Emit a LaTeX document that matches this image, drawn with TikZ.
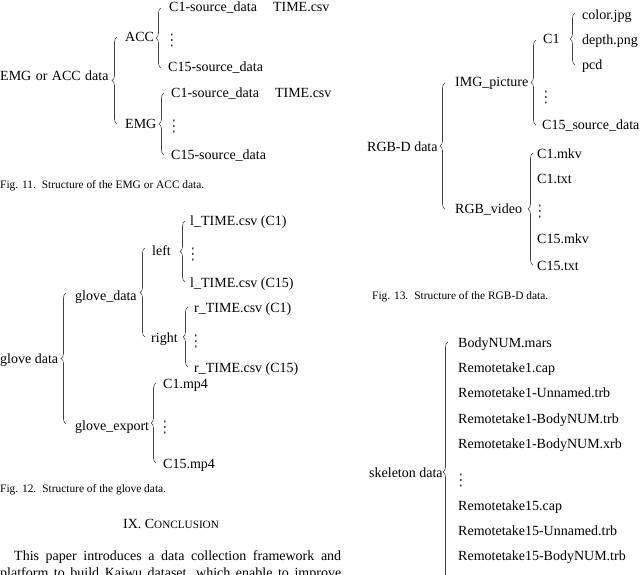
\documentclass[tikz,border=0pt]{standalone}
\usepackage{fontspec}
\setmainfont{Liberation Serif}
\newfontfamily\dvs{DejaVu Sans}
\usetikzlibrary{decorations.pathreplacing}
\newcommand{\myvd}{\scalebox{0.8}[1.15]{\dvs ⋮}}
\tikzset{
  lbl/.style={anchor=base west, inner sep=0pt, font=\fontsize{14}{16}\selectfont},
  captxt/.style={anchor=base west, inner sep=0pt, font=\fontsize{11.4}{13}\selectfont},
  vd/.style={anchor=center, inner sep=0pt, font=\fontsize{14}{16}\selectfont},
  brc/.style={decorate, decoration={brace, amplitude=5pt}, line width=0.6pt, black!75},
}
\begin{document}
\begin{tikzpicture}[x=1pt, y=-1pt]
\useasboundingbox (0,0) rectangle (640,575);
\clip (0,0) rectangle (640,575);
% ---------- Fig. 11 ----------
\node[lbl] (emgacc) at (0,81) {EMG\hspace{1pt} or\hspace{1pt} ACC\hspace{1pt} data};
\node[lbl] (acc) at (125,42) {ACC};
\node[lbl] (emg) at (125,129) {EMG};
\node[lbl] (a1) at (169,12) {C1-source\_data\hspace{16pt}TIME.csv};
\node[vd]  (av) at (172,40) {\myvd};
\node[lbl] (a15) at (168,72) {C15-source\_data};
\node[lbl] (e1) at (171,98) {C1-source\_data\hspace{16pt}TIME.csv};
\node[vd]  (ev) at (174,126) {\myvd};
\node[lbl] (e15) at (171,160) {C15-source\_data};
\draw[brc] (117,124) -- (117,37);
\draw[brc] (161,68) -- (161,8);
\draw[brc] (164,155) -- (164,93);
\node[captxt] (c11) at (0,188) {Fig. 11.\hspace{6pt}Structure of the EMG or ACC data.};
% ---------- Fig. 12 ----------
\node[lbl] (glove) at (0,363) {glove data};
\node[lbl] (gdata) at (75,300) {glove\_data};
\node[lbl] (gexp) at (75,430) {glove\_export};
\node[lbl] (left) at (152,255) {left};
\node[lbl] (right) at (151,342) {right};
\node[lbl] (l1) at (190,225) {l\_TIME.csv (C1)};
\node[vd]  (lv) at (193,254) {\myvd};
\node[lbl] (l15) at (190,287) {l\_TIME.csv (C15)};
\node[lbl] (r1) at (194,312) {r\_TIME.csv (C1)};
\node[vd]  (rv) at (196,341) {\myvd};
\node[lbl] (r15) at (194,372) {r\_TIME.csv (C15)};
\node[lbl] (m1) at (163,388) {C1.mp4};
\node[vd]  (mv) at (165,427) {\myvd};
\node[lbl] (m15) at (163,468) {C15.mp4};
\draw[brc] (66,424) -- (66,293);
\draw[brc] (145,337) -- (145,248);
\draw[brc] (185,282) -- (185,221);
\draw[brc] (188,367) -- (188,307);
\draw[brc] (156,463) -- (156,383);
\node[captxt] (c12) at (0,492) {Fig. 12.\hspace{6pt}Structure of the glove data.};
% ---------- Conclusion ----------
\node[anchor=base, inner sep=0pt, font=\fontsize{14}{16}\selectfont] (concl) at (171,528)
  {IX. C{\fontsize{11.2}{13}\selectfont ONCLUSION}};
\node[lbl] (body1) at (14,560) {\makebox[327pt][s]{This paper introduces a data collection framework and}};
\node[lbl] (body2) at (0,577) {\makebox[341pt][s]{platform to build Kaiwu dataset, which enable to improve}};
% ---------- Fig. 13 ----------
\node[lbl] (rgbd) at (367,152) {RGB-D data};
\node[lbl] (img) at (455,87) {IMG\_picture};
\node[lbl] (vid) at (455,213) {RGB\_video};
\node[lbl] (ic1) at (543,44) {C1};
\node[lbl] (col) at (582,20) {color.jpg};
\node[lbl] (dep) at (582,45) {depth.png};
\node[lbl] (pcd) at (582,70) {pcd};
\node[vd]  (iv) at (546,97) {\myvd};
\node[lbl] (i15) at (542,130) {C15\_source\_data};
\node[lbl] (mkv1) at (537,158) {C1.mkv};
\node[lbl] (txt1) at (537,183) {C1.txt};
\node[vd]  (vv) at (540,211) {\myvd};
\node[lbl] (mkv15) at (537,243) {C15.mkv};
\node[lbl] (txt15) at (537,270) {C15.txt};
\draw[brc] (445,209) -- (445,83);
\draw[brc] (536,125) -- (536,40);
\draw[brc] (575,65) -- (575,13);
\draw[brc] (533,265) -- (533,153);
\node[captxt] (c13) at (372,299) {Fig. 13.\hspace{6pt}Structure of the RGB-D data.};
% ---------- skeleton ----------
\node[lbl] (skel) at (369,477) {skeleton data};
\node[lbl] (s1) at (458,347) {BodyNUM.mars};
\node[lbl] (s2) at (458,372) {Remotetake1.cap};
\node[lbl] (s3) at (458,397) {Remotetake1-Unnamed.trb};
\node[lbl] (s4) at (458,423) {Remotetake1-BodyNUM.trb};
\node[lbl] (s5) at (458,448) {Remotetake1-BodyNUM.xrb};
\node[vd]  (sv) at (461,480) {\myvd};
\node[lbl] (s6) at (458,510) {Remotetake15.cap};
\node[lbl] (s7) at (458,535) {Remotetake15-Unnamed.trb};
\node[lbl] (s8) at (458,560) {Remotetake15-BodyNUM.trb};
\draw[brc] (448,602) -- (448,342);
\end{tikzpicture}
\end{document}
